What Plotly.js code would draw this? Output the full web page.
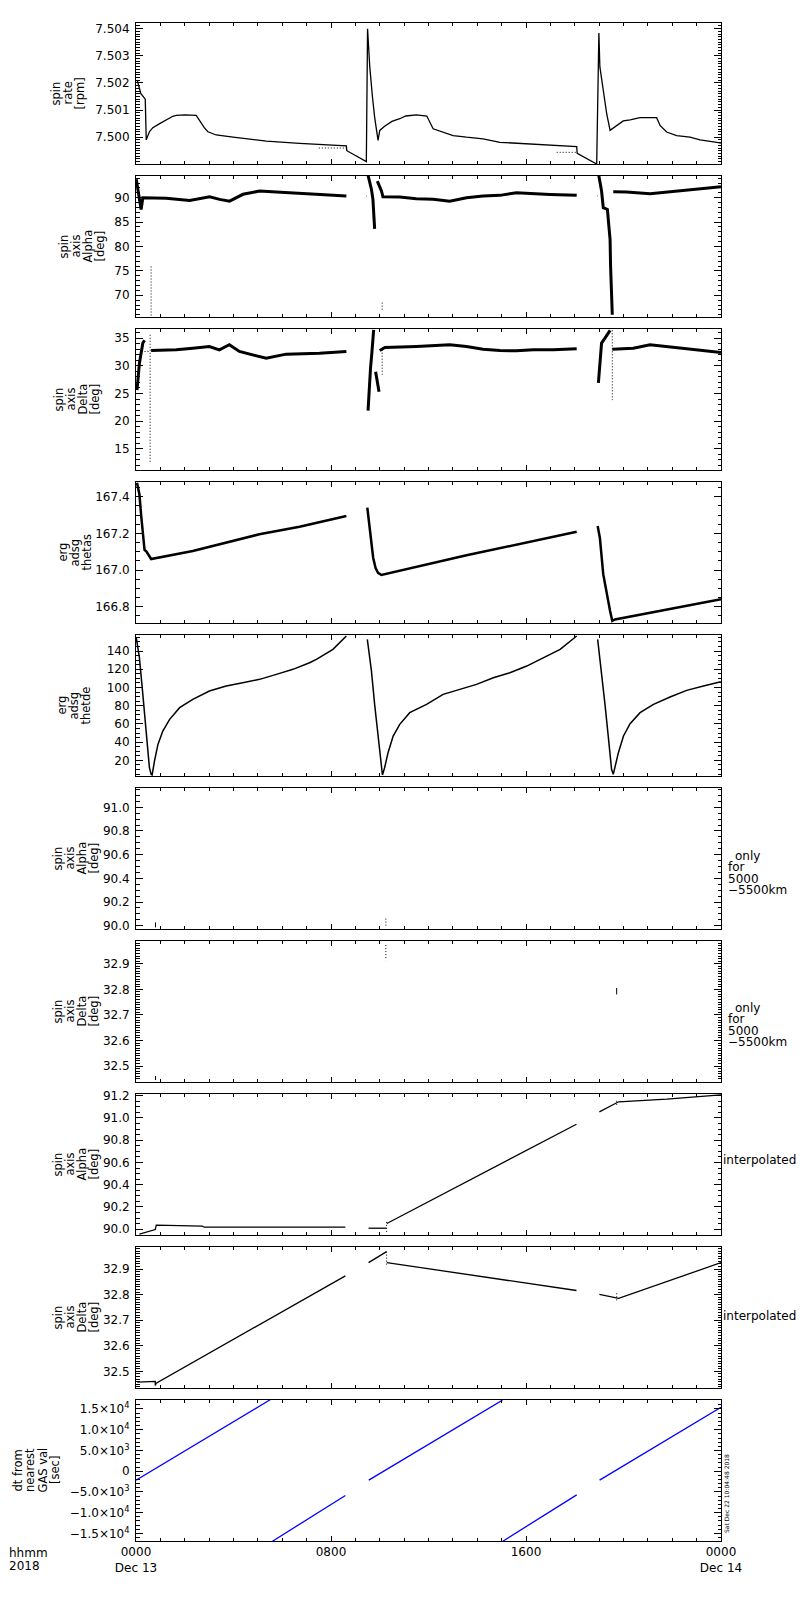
<!DOCTYPE html>
<html>
<head>
<meta charset="utf-8">
<script src="https://cdn.plot.ly/plotly-3.0.1.min.js"></script>
<style>body{margin:0;background:#fff}</style>
</head>
<body>
<div id="chart" style="width:800px;height:1600px"></div>
<script>
// hours since 0000 Dec 13 2018

var rateHour = [0.05, 0.2, 0.38, 0.42, 0.55, 0.69, 0.97, 1.24, 1.51, 1.65, 2.0, 2.47, 2.61, 2.8, 2.95, 3.29, 3.98, 5.35, 6.71, 8.08, 8.63, 8.65, 9.45, 9.5, 9.59, 9.7, 9.79, 9.93, 10.0, 10.2, 10.5, 10.82, 11.07, 11.5, 11.93, 12.19, 12.6, 13.01, 13.56, 14.24, 14.93, 15.61, 16.57, 17.39, 18.08, 18.1, 18.9, 18.99, 19.03, 19.17, 19.31, 19.45, 19.72, 19.99, 20.27, 20.68, 21.36, 21.5, 21.77, 22.18, 22.73, 23.14, 23.83, 24.0];
var rateVal = [7.5021, 7.5016, 7.5014, 7.4999, 7.5002, 7.50035, 7.5005, 7.50065, 7.50077, 7.5008, 7.50082, 7.5008, 7.5006, 7.50035, 7.5002, 7.50008, 7.5, 7.49985, 7.49977, 7.49972, 7.49968, 7.4995, 7.4991, 7.5040, 7.5026, 7.50149, 7.50074, 7.49988, 7.50025, 7.5004, 7.50058, 7.50068, 7.50078, 7.50082, 7.50078, 7.50031, 7.50019, 7.50006, 7.5, 7.49994, 7.49981, 7.49978, 7.49973, 7.49969, 7.49965, 7.4994, 7.49901, 7.50384, 7.5026, 7.50173, 7.50087, 7.50025, 7.50043, 7.5006, 7.50064, 7.50072, 7.50072, 7.50043, 7.50019, 7.50006, 7.5, 7.4999, 7.49981, 7.49978];
var rateLowHour = [7.5, 8.63, null, 17.26, 18.08];
var rateLowVal = [7.4996, 7.4996, null, 7.49944, 7.49944];

var alphaHour = [0.01, 0.21, 0.28, 1.24, 2.2, 2.61, 3.02, 3.43, 3.84, 4.39, 5.07, 5.76, 6.3, 7.12, 8.08, 8.63, null, 9.5, 9.66, 9.72, 9.77, 9.79, null, 9.9, 10.07, 10.13, 10.82, 11.5, 12.19, 12.87, 13.56, 14.24, 14.93, 15.61, 16.3, 16.98, 18.08, null, 18.97, 19.1, 19.17, 19.34, 19.4, 19.45, 19.47, 19.51, 19.54, null, 19.58, 20.13, 21.09, 21.77, 22.46, 23.14, 24.0];
var alphaVal = [93.8, 87.6, 90.0, 89.9, 89.45, 89.8, 90.2, 89.66, 89.3, 90.7, 91.37, 91.16, 91.03, 90.68, 90.48, 90.34, null, 95.0, 91.7, 89.66, 86.2, 83.6, null, 93.4, 91.4, 90.2, 90.14, 89.8, 89.66, 89.3, 90.0, 90.34, 90.48, 91.03, 90.82, 90.68, 90.48, null, 95.0, 91.37, 87.95, 87.6, 84.2, 81.4, 75.96, 71.2, 66.0, null, 91.23, 91.16, 90.82, 91.16, 91.58, 91.85, 92.26];
var alphaDotHour = [0.62, 0.62, null, 9.45, 9.47, null, 10.1, 10.1, null, 18.93, 18.95];
var alphaDotVal = [75.9, 65.5, null, 90.3, 90.3, null, 68.5, 66.7, null, 90.4, 90.4];

var deltaHour = [0.04, 0.14, 0.28, 0.35, null, 0.62, 1.65, 2.33, 3.01, 3.42, 3.83, 4.24, 5.06, 5.34, 6.16, 7.53, 8.63, null, 9.52, 9.56, 9.62, 9.68, 9.75, null, 9.83, 9.97, null, 10.0, 10.21, 11.51, 12.19, 12.87, 13.56, 14.24, 14.93, 15.61, 16.3, 17.12, 18.08, null, 18.97, 19.1, 19.24, 19.38, 19.45, null, 19.54, 20.4, 21.09, 21.77, 22.46, 23.14, 24.0];
var deltaVal = [25.6, 30.45, 34.1, 34.6, null, 32.76, 32.88, 33.18, 33.48, 32.88, 33.79, 32.58, 31.67, 31.36, 32.1, 32.27, 32.58, null, 21.9, 25.5, 29.5, 32.5, 36.5, null, 28.9, 25.3, null, 32.76, 33.3, 33.48, 33.6, 33.79, 33.48, 33.0, 32.76, 32.7, 32.88, 32.88, 33.06, null, 26.9, 34.1, 35.0, 35.9, 36.4, null, 33.0, 33.18, 33.79, 33.48, 33.18, 32.88, 32.39];
var deltaDotHour = [0.58, 0.58, null, 0.35, 0.58, null, 10.1, 10.1, null, 19.54, 19.54];
var deltaDotVal = [35.6, 12.3, null, 32.58, 32.58, null, 32.9, 28.3, null, 36.4, 23.8];

var thetasHour = [0.04, 0.14, 0.21, 0.28, 0.35, 0.43, 0.51, 0.62, 2.33, 5.06, 6.71, 8.63, null, 9.49, 9.59, 9.73, 9.83, 9.93, 10.07, 13.56, 18.08, null, 18.94, 19.03, 19.17, 19.31, 19.45, 19.54, 19.65, 24.0];
var thetasVal = [167.476, 167.413, 167.3, 167.19, 167.11, 167.1, 167.08, 167.06, 167.104, 167.195, 167.236, 167.295, null, 167.34, 167.23, 167.067, 167.01, 166.985, 166.973, 167.08, 167.209, null, 167.24, 167.176, 166.976, 166.867, 166.776, 166.722, 166.73, 166.84];

var thetdeHour = [0.01, 0.14, 0.28, 0.41, 0.55, 0.62, 0.66, 0.76, 0.9, 1.1, 1.38, 1.79, 2.33, 3.01, 3.7, 4.38, 5.07, 5.76, 6.44, 7.12, 7.4, 8.08, 8.63, null, 9.49, 9.66, 9.79, 9.93, 10.07, 10.11, 10.2, 10.34, 10.55, 10.82, 11.23, 11.92, 12.6, 13.29, 13.97, 14.66, 15.34, 16.03, 16.71, 17.4, 18.08, null, 18.94, 19.1, 19.24, 19.38, 19.51, 19.58, 19.65, 19.79, 20.0, 20.27, 20.68, 21.23, 21.91, 22.59, 23.28, 23.99];
var thetdeVal = [154.6, 132.7, 92.4, 52.2, 11.9, 4.6, 3.9, 19.3, 37.5, 52.2, 65.0, 77.8, 86.9, 96.1, 101.6, 105.2, 108.9, 114.4, 119.9, 127.2, 130.9, 141.8, 156.5, null, 152.8, 118.0, 81.5, 44.9, 11.9, 3.9, 11.9, 28.4, 46.7, 59.5, 72.3, 81.5, 92.4, 97.9, 103.4, 110.7, 116.2, 123.5, 132.7, 141.8, 156.5, null, 152.8, 118.0, 81.5, 44.9, 10.1, 4.6, 11.9, 28.4, 46.7, 60.2, 72.3, 81.5, 89.5, 96.8, 101.6, 106.3];

var alphaOnlyHour = [0.8, 0.8];
var alphaOnlyVal = [90.028, 89.986];
var alphaOnlyDotHour = [10.25, 10.25];
var alphaOnlyDotVal = [90.06, 89.99];

var deltaOnlyHour = [0.8, 0.8, null, 19.72, 19.72];
var deltaOnlyVal = [32.461, 32.445, null, 32.805, 32.78];
var deltaOnlyDotHour = [10.25, 10.25];
var deltaOnlyDotVal = [32.973, 32.914];

var alphaIntHour = [0.14, 0.68, 0.79, 0.83, 2.72, 2.8, 8.59, null, 9.54, 10.28, null, 10.29, 18.07, null, 19.01, 19.72, 19.8, 21.77, 24.0];
var alphaIntVal = [89.955, 89.985, 89.997, 90.036, 90.027, 90.018, 90.018, null, 90.009, 90.009, null, 90.051, 90.943, null, 91.054, 91.139, 91.145, 91.169, 91.208];
var alphaIntDotHour = [10.28, 10.28, null, 19.72, 19.72];
var alphaIntDotVal = [90.066, 89.97, null, 91.154, 91.115];

var deltaIntHour = [0.05, 0.79, 0.79, 0.83, 8.59, null, 9.54, 10.28, null, 10.29, 18.07, null, 19.01, 19.72, 19.8, 24.0];
var deltaIntVal = [32.458, 32.461, 32.445, 32.454, 32.873, null, 32.925, 32.968, null, 32.925, 32.816, null, 32.801, 32.788, 32.785, 32.925];
var deltaIntDotHour = [10.28, 10.28, null, 19.72, 19.72];
var deltaIntDotVal = [32.968, 32.912, null, 32.805, 32.771];

var dtHour = [0, 5.52, null, 5.6, 8.59, null, 9.55, 15.03, null, 15.05, 18.08, null, 19.02, 24.0];
var dtVal = [-2170, 17280, null, -16900, -5870, null, -2170, 17120, null, -16900, -5710, null, -2170, 15430];

var dtTickVals = [-15000, -10000, -5000, 0, 5000, 10000, 15000];
var dtTickText = ['\u22121.5\u00d710<sup>4</sup>', '\u22121.0\u00d710<sup>4</sup>', '\u22125.0\u00d710<sup>3</sup>', '0', '5.0\u00d710<sup>3</sup>', '1.0\u00d710<sup>4</sup>', '1.5\u00d710<sup>4</sup>'];

var hourTickVals = [0, 8, 16, 24];
var hourTickText = ['0000<br>Dec 13', '0800', '1600', '0000<br>Dec 14'];

var panelTitles = [
    ['spin', 'rate', '[rpm]'],
    ['spin', 'axis', 'Alpha', '[deg]'],
    ['spin', 'axis', 'Delta', '[deg]'],
    ['erg', 'adsg', 'thetas'],
    ['erg', 'adsg', 'thetde'],
    ['spin', 'axis', 'Alpha', '[deg]'],
    ['spin', 'axis', 'Delta', '[deg]'],
    ['spin', 'axis', 'Alpha', '[deg]'],
    ['spin', 'axis', 'Delta', '[deg]'],
    ['dt from', 'nearest', 'GAS val', '[sec]']
];
var onlyNote = ['only', 'for', '5000', '\u22125500km'];


// ---- page geometry (pixels of the 800x1600 picture)
var L = 136, R = 721, T = 23, B = 1541;
var PANEL_H = 141, PANEL_STEP = 153;
var FONT = 'DejaVu Sans';
var DOTS = '1px,2px';

function fx(px) { return (px - L) / (R - L); }
function fy(py) { return (B - py) / (B - T); }

var axes = [
    { range: [7.49901, 7.50421], dtick: 0.001, fmt: '.3f', minor: 0.0001 },
    { range: [65.55, 94.45], dtick: 5, fmt: 'd', minor: 1 },
    { range: [11.18, 36.64], dtick: 5, fmt: 'd', minor: 1 },
    { range: [166.711, 167.48], dtick: 0.2, fmt: '.1f', minor: 0.05 },
    { range: [2.8, 157.6], dtick: 20, fmt: 'd', minor: 5 },
    { range: [89.972, 91.163], dtick: 0.2, fmt: '.1f', minor: 0.05 },
    { range: [32.4375, 32.989], dtick: 0.1, fmt: '.1f', minor: 0.01 },
    { range: [89.948, 91.215], dtick: 0.2, fmt: '.1f', minor: 0.05 },
    { range: [32.435, 32.986], dtick: 0.1, fmt: '.1f', minor: 0.01 },
    { range: [-16850, 17170], tickvals: dtTickVals, ticktext: dtTickText, minor: 1000 }
];
// x of the first title line and line pitch, per panel
var titleX = [56, 63, 58, 62, 62, 57, 57, 57, 57, 17];
var titlePitch = [12, 12, 12, 12, 12, 12, 12, 12, 12, 12.5];

function suffix(i) { return i == 0 ? '' : String(i + 1) }

var traces = [];
function addLine(panel, xs, ys, width, dash, color) {
    traces.push({
        x: xs,
        y: ys,
        xaxis: 'x' + suffix(panel),
        yaxis: 'y' + suffix(panel),
        type: 'scatter',
        mode: 'lines',
        connectgaps: false,
        hoverinfo: 'skip',
        line: { color: color || '#000', width: width, dash: dash || 'solid' }
    });
}

addLine(0, rateHour, rateVal, 1.3);
addLine(0, rateLowHour, rateLowVal, 1, DOTS);
addLine(1, alphaHour, alphaVal, 3);
addLine(1, alphaDotHour, alphaDotVal, 1, DOTS);
addLine(2, deltaHour, deltaVal, 3);
addLine(2, deltaDotHour, deltaDotVal, 1, DOTS);
addLine(3, thetasHour, thetasVal, 2.5);
addLine(4, thetdeHour, thetdeVal, 1.5);
addLine(5, alphaOnlyHour, alphaOnlyVal, 1);
addLine(5, alphaOnlyDotHour, alphaOnlyDotVal, 1, DOTS);
addLine(6, deltaOnlyHour, deltaOnlyVal, 1);
addLine(6, deltaOnlyDotHour, deltaOnlyDotVal, 1, DOTS);
addLine(7, alphaIntHour, alphaIntVal, 1.3);
addLine(7, alphaIntDotHour, alphaIntDotVal, 1, DOTS);
addLine(8, deltaIntHour, deltaIntVal, 1.3);
addLine(8, deltaIntDotHour, deltaIntDotVal, 1, DOTS);
addLine(9, dtHour, dtVal, 1.3, 'solid', '#0000ff');

var layout = {
    width: 800,
    height: 1600,
    margin: { l: L, r: 800 - R, t: T, b: 1600 - B, pad: 0 },
    paper_bgcolor: '#fff',
    plot_bgcolor: '#fff',
    showlegend: false,
    font: { family: FONT, size: 12, color: '#000' },
    annotations: []
};

for (let i = 0; i < 10; i++) {
    let top = T + i * PANEL_STEP;
    let a = axes[i];
    let last = i == 9;

    layout['xaxis' + suffix(i)] = {
        domain: [0, 1],
        anchor: 'y' + suffix(i),
        range: [0, 24],
        tickvals: hourTickVals,
        ticktext: hourTickText,
        showticklabels: last,
        ticks: 'inside',
        ticklen: 5,
        tickcolor: '#000',
        minor: { dtick: 1, ticks: 'inside', ticklen: 3, tickcolor: '#000', showgrid: false },
        showline: true,
        linecolor: '#000',
        linewidth: 1,
        mirror: 'allticks',
        showgrid: false,
        zeroline: false,
        fixedrange: true,
        tickfont: { family: FONT, size: 12, color: '#000' }
    };

    let y = {
        domain: [fy(top + PANEL_H), fy(top)],
        anchor: 'x' + suffix(i),
        range: a.range,
        ticks: 'inside',
        ticklen: 7,
        tickcolor: '#000',
        minor: { dtick: a.minor, ticks: 'inside', ticklen: 3.5, tickcolor: '#000', showgrid: false },
        showline: true,
        linecolor: '#000',
        linewidth: 1,
        mirror: 'allticks',
        showgrid: false,
        zeroline: false,
        fixedrange: true,
        ticklabelstandoff: 3,
        tickfont: { family: FONT, size: 12, color: '#000' }
    };
    if (a.tickvals) {
        y.tickvals = a.tickvals;
        y.ticktext = a.ticktext;
    } else {
        y.dtick = a.dtick;
        y.tick0 = 0;
        y.tickformat = a.fmt;
    }
    layout['yaxis' + suffix(i)] = y;

    // stacked, rotated title lines left of the panel
    let mid = top + PANEL_H / 2;
    panelTitles[i].forEach(function (txt, k) {
        layout.annotations.push({
            text: txt,
            xref: 'paper', yref: 'paper',
            x: fx(titleX[i] + k * titlePitch[i]), y: fy(mid),
            xanchor: 'center', yanchor: 'middle',
            textangle: -90,
            showarrow: false,
            font: { family: FONT, size: 11.5, color: '#000' }
        });
    });
}

function note(txt, px, py, size) {
    layout.annotations.push({
        text: txt,
        xref: 'paper', yref: 'paper',
        x: fx(px), y: fy(py),
        xanchor: 'left', yanchor: 'middle',
        showarrow: false,
        font: { family: FONT, size: size || 12, color: '#000' }
    });
}

// right hand remarks
[856, 1008].forEach(function (y0) {
    onlyNote.forEach(function (t, k) {
        note(t, k == 0 ? 733 : 726, y0 + k * 11.3);
    });
});
note('interpolated', 721, 1160);
note('interpolated', 721, 1316);

note('hhmm', 7, 1553, 12);
note('2018', 7, 1566, 12);

layout.annotations.push({
    text: 'Sat Dec 22 10:04:48 2018',
    xref: 'paper', yref: 'paper',
    x: fx(726), y: fy(1494),
    xanchor: 'center', yanchor: 'middle',
    textangle: -90,
    showarrow: false,
    font: { family: FONT, size: 6, color: '#000' }
});

Plotly.newPlot('chart', traces, layout, { displayModeBar: false, staticPlot: true });
</script>
</body>
</html>
